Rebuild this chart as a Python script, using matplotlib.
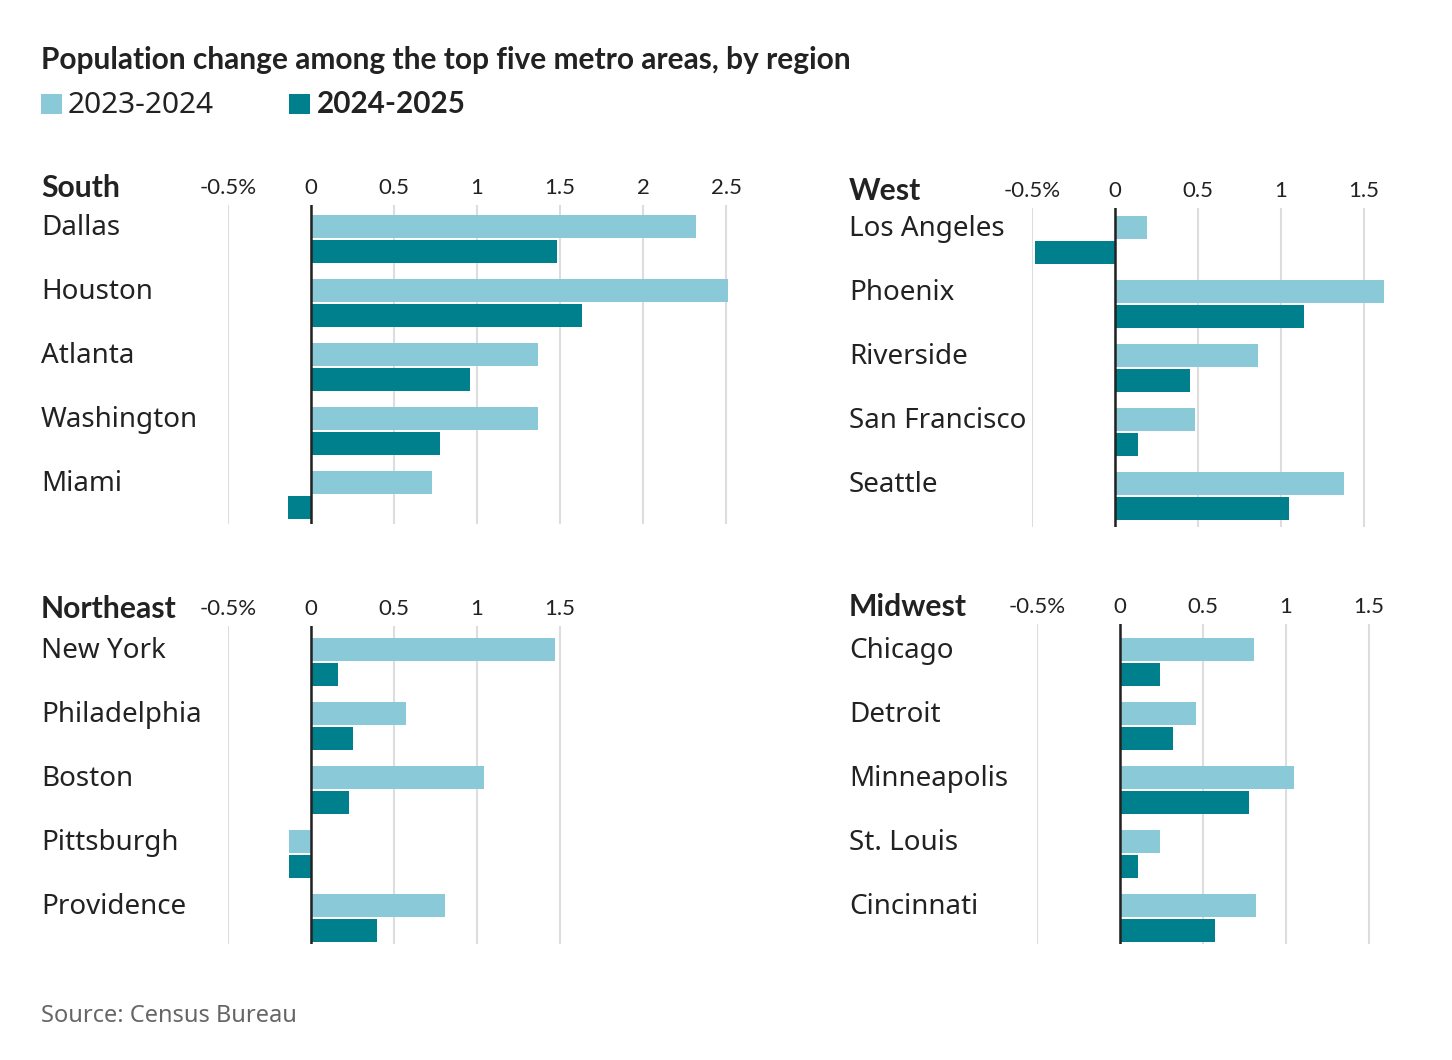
import numpy as np
import matplotlib
matplotlib.use("Agg")
import matplotlib.pyplot as plt
import matplotlib.transforms as mtransforms
from matplotlib.patches import Rectangle

W, H = 1452, 1060
LIGHT = "#8ACAD8"
DARK = "#00808C"
TXT = "#222222"

# ── data (percent change) ───────────────────────────────────────────────
south_cities = ["Dallas", "Houston", "Atlanta", "Washington", "Miami"]
south_2324 = [2.32, 2.51, 1.37, 1.37, 0.73]
south_2425 = [1.48, 1.63, 0.96, 0.78, -0.14]

west_cities = ["Los Angeles", "Phoenix", "Riverside", "San Francisco", "Seattle"]
west_2324 = [0.19, 1.62, 0.86, 0.48, 1.38]
west_2425 = [-0.48, 1.14, 0.45, 0.14, 1.05]

northeast_cities = ["New York", "Philadelphia", "Boston", "Pittsburgh", "Providence"]
northeast_2324 = [1.47, 0.57, 1.04, -0.13, 0.81]
northeast_2425 = [0.16, 0.25, 0.23, -0.13, 0.40]

midwest_cities = ["Chicago", "Detroit", "Minneapolis", "St. Louis", "Cincinnati"]
midwest_2324 = [0.81, 0.46, 1.05, 0.24, 0.82]
midwest_2425 = [0.24, 0.32, 0.78, 0.11, 0.57]

south_ticks = [-0.5, 0, 0.5, 1, 1.5, 2, 2.5]
other_ticks = [-0.5, 0, 0.5, 1, 1.5]

PX_PER_UNIT = 166
ROW_PX = 64

TICK_FONT = ["Lato", "DejaVu Sans"]
BODY_FONT = ["Noto Sans", "DejaVu Sans"]
BOLD_FONT = ["Lato", "DejaVu Sans"]

fig = plt.figure(figsize=(W / 100, H / 100), dpi=100)
fig.patch.set_facecolor("white")


def fx(px):
    return px / W


def fy(py):
    return 1 - py / H


def panel(name, cities, v1, v2, ticks, xmax, left_px, top_px, bottom_px, row0_px, label_px):
    right_px = left_px + (xmax + 0.5) * PX_PER_UNIT
    ax = fig.add_axes([fx(left_px), fy(bottom_px), (right_px - left_px) / W, (bottom_px - top_px) / H])
    ys = np.arange(len(cities))
    ax.barh(ys - 0.195, v1, height=0.36, color=LIGHT, zorder=2)
    ax.barh(ys + 0.195, v2, height=0.36, color=DARK, zorder=2)
    ax.axvline(0, color=TXT, lw=1.8, zorder=3)
    ax.set_xlim(-0.5, xmax)
    ytop = -(row0_px - top_px) / ROW_PX
    ybot = ytop + (bottom_px - top_px) / ROW_PX
    ax.set_ylim(ybot, ytop)
    ax.set_xticks(ticks)
    ax.set_xticklabels([f"{t:g}%" if i == 0 else f"{t:g}" for i, t in enumerate(ticks)],
                       family=TICK_FONT, fontsize=16, color=TXT)
    ax.xaxis.tick_top()
    ax.tick_params(axis="x", length=0, pad=5)
    ax.set_yticks([])
    ax.grid(axis="x", color="#dddddd", lw=1.5, zorder=0)
    ax.set_axisbelow(True)
    for s in ax.spines.values():
        s.set_visible(False)

    trans = mtransforms.blended_transform_factory(fig.transFigure, ax.transData)
    for i, c in enumerate(cities):
        ax.text(fx(label_px), i - 0.06, c, transform=trans, va="baseline", ha="left",
                fontsize=20, family=BODY_FONT, color=TXT)
    fig.text(fx(label_px), fy(top_px - 8), name, va="baseline", ha="left",
             fontsize=21.7, weight="bold", family=BOLD_FONT, color=TXT)
    return ax


panel("South", south_cities, south_2324, south_2425, south_ticks, 2.6, 228, 205, 524, 239, 41)
panel("West", west_cities, west_2324, west_2425, other_ticks, 1.65, 1032, 208, 527, 240, 849)
panel("Northeast", northeast_cities, northeast_2324, northeast_2425, other_ticks, 1.65, 228, 626, 944, 662, 41)
panel("Midwest", midwest_cities, midwest_2324, midwest_2425, other_ticks, 1.65, 1037, 624, 944, 662, 849)

# title and legend
fig.text(fx(41), fy(69), "Population change among the top five metro areas, by region",
         va="baseline", ha="left", fontsize=21.5, weight="bold", family=BOLD_FONT, color=TXT)
fig.add_artist(Rectangle((fx(41), fy(114)), 21 / W, 20 / H, transform=fig.transFigure,
                         color=LIGHT, lw=0))
fig.text(fx(68), fy(113), "2023-2024", va="baseline", ha="left", fontsize=21.5,
         family=BODY_FONT, color=TXT)
fig.add_artist(Rectangle((fx(289), fy(114)), 21 / W, 20 / H, transform=fig.transFigure,
                         color=DARK, lw=0))
fig.text(fx(317), fy(113), "2024-2025", va="baseline", ha="left", fontsize=21.3,
         weight="bold", family=BOLD_FONT, color=TXT)

fig.text(fx(41), fy(1022), "Source: Census Bureau", va="baseline", ha="left", fontsize=17,
         family=BODY_FONT, color="#666666")

fig.savefig("out.png", dpi=100, facecolor="white")
